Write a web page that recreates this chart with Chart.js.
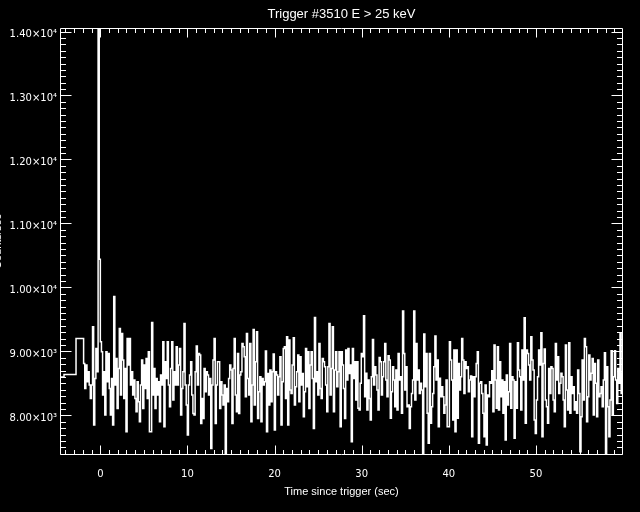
<!DOCTYPE html>
<html><head><meta charset="utf-8">
<script src="https://cdn.jsdelivr.net/npm/chart.js@4.4.1/dist/chart.umd.min.js"></script>
<style>html,body{margin:0;padding:0;background:#000;} #wrap{width:640px;height:512px;} canvas{display:block;background:#000;}</style>
</head><body><div id="wrap"><canvas id="c" width="640" height="512"></canvas></div>
<script>
const titleText = 'Trigger #3510 E > 25 keV';
const xTitle = 'Time since trigger (sec)';
const yTitle = 'Counts/sec';
const xTickValues = [0, 10, 20, 30, 40, 50];
const xTickLabels = ['0', '10', '20', '30', '40', '50'];
const yTickValues = [8000, 9000, 10000, 11000, 12000, 13000, 14000];
const yTickLabels = ['8.00×10³', '9.00×10³', '1.00×10⁴', '1.10×10⁴', '1.20×10⁴', '1.30×10⁴', '1.40×10⁴'];
// coarse pre-trigger bins (start time, rate)
const preTimes = [-4.63, -4.17, -2.79];
const preCounts = [8600, 8640, 9200];
// fine bins after -2.048 s
const binStart = -2.048;
const binWidth = 0.128;
const counts = [
9202, 8812, 8421, 8786, 8525, 8681, 8473, 8265, 8473, 9385,
7848, 8577, 9046, 8681, 14050, 10440, 9150, 8994, 8317, 8681,
8004, 8994, 8525, 8968, 8421, 8004, 8577, 7848, 9859, 8473,
8890, 8108, 8734, 9359, 8317, 9281, 8864, 8265, 8734, 7744,
9202, 8786, 9202, 8473, 8681, 8317, 8551, 8265, 8056, 8525,
8213, 7900, 8473, 8864, 8108, 8786, 8421, 8890, 8265, 8994,
7744,
7744, 9452, 8317, 8734, 8108, 8577, 8317, 8525, 7900, 8629,
8473, 9150, 7822, 8838, 8577, 9150, 8473, 8134, 8734, 9150,
8239, 8681, 8473, 9072, 8473, 8786, 9046, 8004, 8421, 8681,
9437, 8473, 8160, 7692, 8473, 8629, 8838, 8317, 8030, 8004,
8681, 9083, 8473, 8968, 8942, 7874, 8265, 7952, 8734, 8369,
8681, 8629, 8317, 8577, 7483, 8473, 8864, 9202, 7874, 8473,
8838,
8838, 8108, 8525, 8317, 8160, 8473, 7405, 8421, 8213, 8577,
8786, 8707, 7874, 8734, 9202, 8317, 8056, 8968, 8030, 8629,
8681, 9124, 9072, 8916, 8291, 9281, 8577, 8317, 9124, 7900,
8473, 9343, 8160, 8838, 9307, 7952, 8369, 8603, 7900, 8577,
8473, 8525, 9004, 7744, 8655, 8160, 8707, 8213, 8681, 8958,
7770, 8681, 8629, 8317, 8603, 8916, 7848, 8525, 9046, 9072,
8265,
9228, 7848, 9176, 8395, 8343, 8786, 9213, 8160, 8447, 8681,
8942, 8213, 8916, 8473, 8655, 7978, 8369, 9046, 8447, 8994,
8108, 8786, 8994, 8577, 7796, 9531, 8525, 8681, 8317, 9124,
8421, 8265, 8890, 8838, 8760, 8473, 8056, 8760, 9437, 8317,
8734, 9385, 8056, 8707, 8994, 8447, 8681, 8994, 7822, 8994,
8786, 8421, 7952, 9020, 8551, 9046, 8655, 8786, 7587, 9046,
8577,
8838, 8239, 8838, 8109, 8083, 8500, 8968, 8916, 9557, 8291,
8656, 8083, 8552, 8265, 7927, 8604, 9187, 8474, 8760, 8630,
8395, 8083, 8906, 8838, 8317, 8604, 8838, 9124, 8552, 8291,
8932, 8864, 7953, 8369, 8760, 8552, 8135, 8708, 8083, 8968,
8552, 8604, 8031, 9630, 8968, 8395, 8760, 8135, 8161, 7796,
8135, 8343, 8552, 9630, 8239, 9124, 8552, 8708, 8343, 8500,
8395, 7385, 9270, 8447, 8968, 8031, 7562, 8968, 7875, 8135,
8343, 8760, 9239, 8552, 8864, 7822, 8578, 8291, 8447, 8291,
8031, 8161, 8552, 7822, 7822, 9151, 8864, 8552, 7927, 9020,
7744, 9020, 7953, 8812, 8395, 8604, 9203, 8864, 8343, 8838,
8734, 8760, 8369, 8552, 8614, 7666, 8604, 8291, 8604, 8812,
8994, 7562, 8500, 8526, 8343, 8031, 7666, 8474, 7536, 8317,
8291, 8526,
8500, 8697, 8057, 9098, 8552, 8109, 9072, 8083, 8838, 8291,
8552, 8031, 8526, 7614, 8630, 8161, 8369, 9124, 8109, 8604,
8552, 7640, 8526, 8109, 9135, 8708, 8604, 8083, 9020, 8552,
9526, 7875, 9020, 8968, 8786, 8552, 9229, 8864, 8708, 7927,
7718, 8239, 8604, 9020, 8786, 9291, 7666, 8812, 9036, 8239,
8135, 7875, 8734, 8343, 8760, 8734, 8239, 8057, 9124, 8552,
8916, 8343, 8500, 8656, 8604, 8239, 7822, 9098, 8395, 8083,
9135, 8031, 8604, 8343, 8447, 8083, 8213, 8031, 8708, 8343,
7432, 7979, 8864, 8239, 9203, 9072, 7901, 8291, 8942, 8552,
8656, 8890, 8005, 8812, 8500, 7979, 8864, 8291, 8343, 8447,
8135, 8552, 8979, 7395, 8760, 8135, 7666, 8239, 9010, 8005,
8604, 9010, 8552, 8187, 8734, 8500, 9281, 8343, 8656
];

const points = preTimes.map((t, i) => ({x: t, y: preCounts[i]}));
counts.forEach((c, i) => points.push({x: binStart + i * binWidth, y: c}));
points.push({x: binStart + counts.length * binWidth, y: counts[counts.length - 1]});

const frame = {
  id: 'idlFrame',
  afterDatasetsDraw(chart) {
    const {ctx, chartArea: a, scales} = chart;
    const x = scales.x, y = scales.y;
    const L = Math.round(a.left) + 0.5, R = Math.round(a.right) - 0.5;
    const T = Math.round(a.top) + 0.5, B = Math.round(a.bottom) - 0.5;
    ctx.save();
    ctx.strokeStyle = '#fff';
    ctx.lineWidth = 1;
    ctx.beginPath();
    ctx.moveTo(L, T); ctx.lineTo(R, T); ctx.lineTo(R, B); ctx.lineTo(L, B); ctx.closePath();
    for (let v = Math.ceil(x.min); v <= x.max; v++) {
      const px = Math.round(x.getPixelForValue(v)) + 0.5;
      const len = (v % 10 === 0) ? 9 : 4.5;
      ctx.moveTo(px, B); ctx.lineTo(px, B - len);
      ctx.moveTo(px, T); ctx.lineTo(px, T + len);
    }
    for (let v = Math.ceil(y.min / 100) * 100; v <= y.max; v += 100) {
      const py = Math.round(y.getPixelForValue(v)) + 0.5;
      const len = (v % 1000 === 0) ? 11 : 5.5;
      ctx.moveTo(L, py); ctx.lineTo(L + len, py);
      ctx.moveTo(R, py); ctx.lineTo(R - len, py);
    }
    ctx.stroke();
    ctx.restore();
  }
};

const tickFont = {family: 'DejaVu Sans', size: 10};
new Chart(document.getElementById('c'), {
  type: 'line',
  data: {datasets: [{
    data: points, borderColor: '#fff', borderWidth: 1.5, pointRadius: 0,
    stepped: 'before', fill: false, tension: 0
  }]},
  options: {
    responsive: false, animation: false, events: [],
    layout: {padding: {left: 0, right: 17, top: 0, bottom: 0}},
    plugins: {legend: {display: false}, title: {display: false}, tooltip: {enabled: false}},
    scales: {
      x: {
        type: 'linear', position: 'bottom', min: -4.63, max: 59.99,
        afterFit(s) { s.height = 57; },
        afterBuildTicks(s) { s.ticks = xTickValues.map(v => ({value: v})); },
        ticks: {color: '#fff', font: tickFont, padding: 13, maxRotation: 0, autoSkip: false,
          callback: (v, i) => xTickLabels[i]},
        grid: {display: false, drawTicks: false}, border: {display: false},
        title: {display: true, text: xTitle, color: '#fff',
          font: {family: 'Liberation Sans', size: 11}, padding: {top: 0, bottom: 13}}
      },
      x2: {
        type: 'linear', position: 'top', min: -4.63, max: 59.99,
        afterFit(s) { s.height = 28; },
        ticks: {display: false}, grid: {display: false, drawTicks: false}, border: {display: false},
        title: {display: true, text: titleText, color: '#fff',
          font: {family: 'Liberation Sans', size: 13}, padding: {top: 7, bottom: 0}}
      },
      y: {
        type: 'linear', position: 'left', min: 7380, max: 14055,
        afterFit(s) { s.width = 60; },
        afterBuildTicks(s) { s.ticks = yTickValues.map(v => ({value: v})); },
        ticks: {color: '#fff', font: tickFont, padding: 3, labelOffset: 3, autoSkip: false,
          callback: (v, i) => yTickLabels[i]},
        grid: {display: false, drawTicks: false}, border: {display: false},
        title: {display: true, text: yTitle, color: '#fff',
          font: {family: 'Liberation Sans', size: 11}, padding: {top: -9, bottom: 0}}
      }
    }
  },
  plugins: [frame]
});
</script>
</body></html>
